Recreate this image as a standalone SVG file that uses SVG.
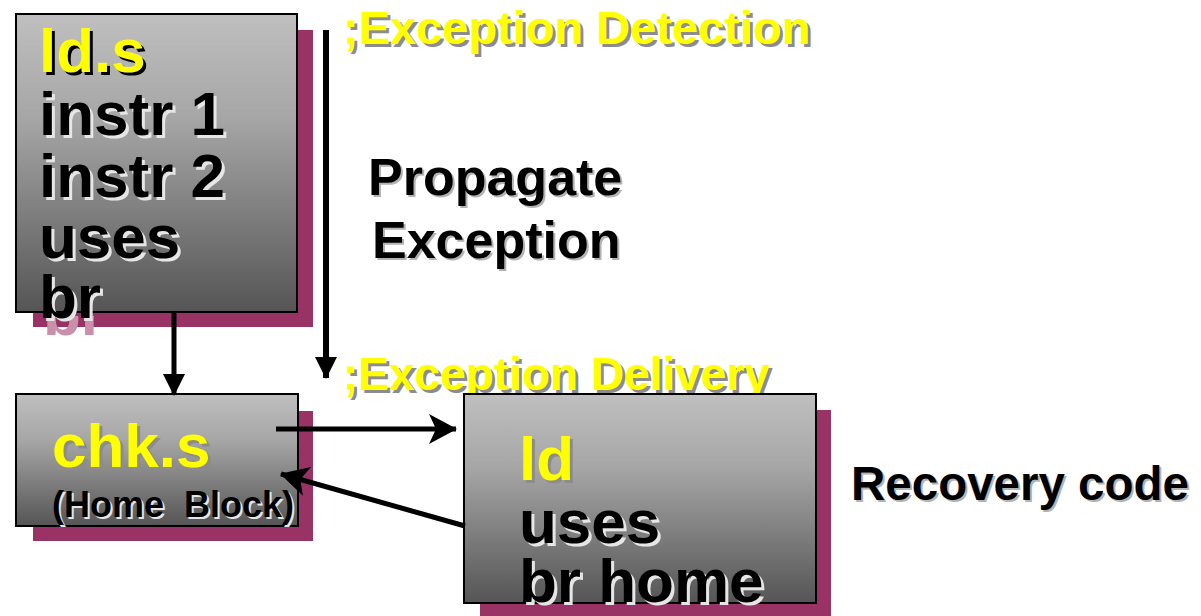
<svg xmlns="http://www.w3.org/2000/svg" width="1201" height="616" viewBox="0 0 1201 616">
  <style>
    text { font-family: "Liberation Sans", Arial, sans-serif; font-weight: bold; }
    .box { fill: url(#boxFill); stroke: #000; stroke-width: 2; }
    .drop { fill: #993366; }
    .big { font-size: 62px; }
    .yellow { fill: #ffff00; }
    .black { fill: #000; }
    .dark-sh { fill: #000; }
    .grey-sh { fill: #8c8c8c; }
    .light-sh { fill: #e6e6e6; }
    .soft-sh { fill: #b3b3b3; }
    .conn { stroke: #000; fill: none; }
  </style>
  <defs>
    <linearGradient id="boxFill" x1="0" y1="0" x2="0" y2="1">
      <stop offset="0" stop-color="#bfbfbf"/>
      <stop offset="0.35" stop-color="#a6a6a6"/>
      <stop offset="1" stop-color="#555555"/>
    </linearGradient>
    <marker id="headLg" markerUnits="userSpaceOnUse" viewBox="0 0 28 30" markerWidth="28" markerHeight="30" refX="27" refY="15" orient="auto">
      <path d="M0,0 L28,15 L0,30 L7,15 z" fill="#000"/>
    </marker>
    <marker id="headSm" markerUnits="userSpaceOnUse" viewBox="0 0 22 22" markerWidth="22" markerHeight="22" refX="21" refY="11" orient="auto">
      <path d="M0,0 L22,11 L0,22 z" fill="#000"/>
    </marker>
    <clipPath id="belowBox">
      <rect x="16" y="316" width="300" height="20"/>
    </clipPath>
  </defs>

  <!-- speculative block with load and uses -->
  <g id="spec-block">
    <rect class="drop" x="33" y="30" width="280" height="297"/>
    <rect class="box" x="16" y="14" width="281" height="298"/>
    <text class="big" x="43" y="335" fill="#c98fab" clip-path="url(#belowBox)">br</text>
    <text class="big dark-sh" x="42" y="75">ld.s</text>
    <text class="big yellow" x="39" y="72">ld.s</text>
    <g class="light-sh" transform="translate(3,3)">
      <text class="big" x="39" y="135">instr 1</text>
      <text class="big" x="39" y="197">instr 2</text>
      <text class="big" x="39" y="258">uses</text>
      <text class="big" x="39" y="318">br</text>
    </g>
    <g class="black">
      <text class="big" x="39" y="135">instr 1</text>
      <text class="big" x="39" y="197">instr 2</text>
      <text class="big" x="39" y="258">uses</text>
      <text class="big" x="39" y="318">br</text>
    </g>
  </g>

  <!-- home block with the check -->
  <g id="home-block">
    <rect class="drop" x="33" y="411" width="280" height="130"/>
    <rect class="box" x="16" y="394" width="282" height="132"/>
    <text class="big grey-sh" x="55" y="470">chk.s</text>
    <text class="big yellow" x="52" y="467">chk.s</text>
    <text class="light-sh" x="54" y="519" font-size="36" xml:space="preserve">(Home  Block)</text>
    <text class="black" x="52" y="517" font-size="36" xml:space="preserve">(Home  Block)</text>
  </g>

  <!-- annotations -->
  <g id="detection-label">
    <text class="grey-sh" x="346" y="47" font-size="47">;Exception Detection</text>
    <text class="yellow" x="343" y="44" font-size="47">;Exception Detection</text>
  </g>
  <g id="propagate-label">
    <text class="soft-sh" x="370" y="197" font-size="52">Propagate</text>
    <text class="black" x="368" y="195" font-size="52">Propagate</text>
    <text class="soft-sh" x="374" y="260" font-size="52">Exception</text>
    <text class="black" x="372" y="258" font-size="52">Exception</text>
  </g>
  <g id="delivery-label">
    <text class="grey-sh" x="346" y="393" font-size="46">;Exception Delivery</text>
    <text class="yellow" x="343" y="390" font-size="46">;Exception Delivery</text>
  </g>
  <g id="recovery-label">
    <text class="soft-sh" x="853" y="502" font-size="47.5">Recovery code</text>
    <text class="black" x="851" y="500" font-size="47.5">Recovery code</text>
  </g>

  <!-- recovery code block -->
  <g id="recovery-block">
    <rect class="drop" x="480" y="410" width="351" height="206"/>
    <rect class="box" x="464" y="394" width="352" height="209"/>
    <text class="big grey-sh" x="522" y="483">ld</text>
    <text class="big yellow" x="519" y="480">ld</text>
    <g class="light-sh" transform="translate(3,3)">
      <text class="big" x="519" y="543">uses</text>
      <text class="big" x="519" y="602">br home</text>
    </g>
    <g class="black">
      <text class="big" x="519" y="543">uses</text>
      <text class="big" x="519" y="602">br home</text>
    </g>
  </g>

  <!-- control flow and exception propagation -->
  <g id="connectors">
    <line class="conn" x1="326" y1="30" x2="326" y2="378" stroke-width="6" marker-end="url(#headSm)"/>
    <line class="conn" x1="174" y1="312" x2="174" y2="395" stroke-width="5" marker-end="url(#headSm)"/>
    <line class="conn" x1="276" y1="429" x2="456" y2="429" stroke-width="5" marker-end="url(#headLg)"/>
    <line class="conn" x1="465" y1="526" x2="281" y2="474" stroke-width="5" marker-end="url(#headLg)"/>
  </g>
</svg>
